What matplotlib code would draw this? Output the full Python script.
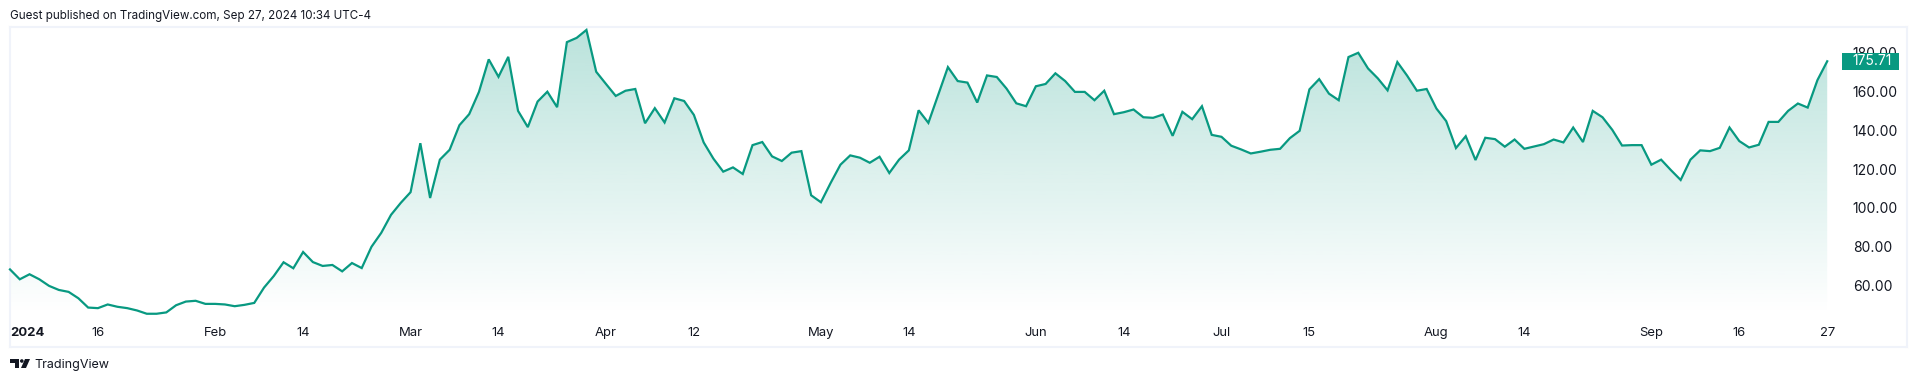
import numpy as np
import matplotlib
matplotlib.use("Agg")
import matplotlib.pyplot as plt
from matplotlib.patches import Rectangle, Polygon, Circle
from matplotlib.transforms import Affine2D

# Daily close values, Jan 2 – Sep 27 2024
values = [
 68.2,63.1,65.7,63.1,59.7,57.6,56.6,53.3,48.5,48.2,50.1,48.9,48.2,47.0,45.3,45.3,46.0,49.7,51.6,52.0,
 50.4,50.4,50.1,49.2,49.9,50.9,58.8,64.8,71.9,68.8,77.2,72.0,70.0,70.5,67.2,71.5,68.9,79.9,87.1,96.4,
 102.6,108.1,133.4,105.1,124.9,130.0,142.7,148.4,159.9,176.7,167.7,178.0,150.1,141.7,154.9,160.0,152.0,185.6,187.8,191.9,
 170.3,164.0,157.8,160.5,161.4,143.7,151.5,144.1,156.6,155.2,148.0,133.8,125.4,118.7,120.9,117.5,132.4,134.0,126.6,124.2,
 128.5,129.3,106.5,102.9,112.9,122.3,127.1,125.9,123.3,126.4,118.0,124.9,129.7,150.4,143.9,158.3,172.7,165.5,164.7,154.4,
 168.4,167.6,161.6,154.0,152.5,162.8,164.0,169.5,165.5,159.9,159.9,155.6,160.5,148.4,149.4,150.8,146.8,146.5,148.2,137.2,
 149.6,145.8,152.5,137.7,136.7,132.1,130.2,128.1,129.0,130.0,130.5,136.0,139.8,161.2,166.5,159.0,155.6,177.9,180.1,172.0,
 166.9,160.7,175.3,168.3,160.5,161.4,151.3,144.8,130.9,137.0,124.7,136.2,135.5,131.6,135.3,130.5,131.7,132.9,135.3,133.8,
 141.5,134.0,150.1,146.8,140.3,132.2,132.4,132.4,122.3,124.9,119.5,114.4,124.9,129.7,129.3,131.0,141.5,134.5,131.2,132.6,
 144.4,144.4,150.1,153.9,151.8,166.0,175.71]
x_tick_idx = [0, 9, 21, 30, 41, 50, 61, 70, 83, 92, 105, 114, 124, 133, 146, 155, 168, 177, 186]
x_tick_labels = ["2024","16","Feb","14","Mar","14","Apr","12","May","14","Jun","14","Jul","15","Aug","14","Sep","16","27"]
y_ticks = [60, 80, 100, 120, 140, 160, 180]
last_value = values[-1]

LINE = "#089981"
FRAME = "#F0F3FA"
TEXT = "#131722"
W, H = 1916, 382
FONT = "Inter"
X_FS = 9.4
Y_FS = 10.0

fig = plt.figure(figsize=(W/100, H/100), dpi=100, facecolor="white")
L, R, T, B = 10, 1907, 27, 347
ax = fig.add_axes([L/W, 1-B/H, (R-L)/W, (B-T)/H])
px_x = 9.77
px_y = 1.936
xlim = (0, (R-L)/px_x)
ylim = (60-(B-285.3)/px_y, 60+(285.3-T)/px_y)

xs = np.arange(len(values))
ax.plot(xs, values, color=LINE, lw=1.6, solid_joinstyle="miter", zorder=3, clip_on=False)

# vertical gradient fill, clipped under the line
base = 60-(315-285.3)/px_y
top = max(values)
n = 256
rgba = np.zeros((n, 1, 4))
rgba[..., 0] = 8/255; rgba[..., 1] = 153/255; rgba[..., 2] = 129/255
rgba[:, 0, 3] = np.linspace(0.28, 0.0, n)
im = ax.imshow(rgba, extent=[0, xs[-1], base, top], origin="upper", aspect="auto",
               interpolation="bilinear", zorder=2)
ax.set_xlim(*xlim)
ax.set_ylim(*ylim)
poly = Polygon(np.vstack([[0, base], np.column_stack([xs, values]), [xs[-1], base]]),
               closed=True, transform=ax.transData, facecolor="none", edgecolor="none")
ax.add_patch(poly)
im.set_clip_path(poly)

for s in ax.spines.values():
    s.set_color(FRAME); s.set_linewidth(1.5)

ax.set_xticks(x_tick_idx)
ax.set_xticklabels(x_tick_labels, fontsize=X_FS, family=FONT, color=TEXT)
ax.get_xticklabels()[0].set_fontweight("bold")
ax.get_xticklabels()[0].set_ha("left")
ax.tick_params(axis="x", length=0, direction="in", pad=-14.5)

ax.yaxis.tick_right()
ax.set_yticks(y_ticks)
ax.set_yticklabels([f"{v:.2f}" for v in y_ticks], fontsize=Y_FS, family=FONT, color=TEXT)
ax.tick_params(axis="y", length=0, direction="in", pad=-39)
for lab in ax.get_yticklabels():
    lab.set_ha("left")

# last value badge
to_px = Affine2D().scale(1, -1).translate(0, H)
ax.add_patch(Rectangle((1842, 53), 57, 17, transform=to_px, facecolor=LINE, edgecolor="none",
                       zorder=6, clip_on=False))
ax.annotate(f"{last_value:.2f}", xy=(1, last_value), xycoords=("axes fraction", "data"),
            xytext=(-39, 0), textcoords="offset points", ha="left", va="center",
            fontsize=Y_FS, family=FONT, color="white", zorder=7)

fig.text(10/W, 1-16/H, "Guest published on TradingView.com, Sep 27, 2024 10:34 UTC-4",
         fontsize=8.4, family=FONT, color=TEXT, ha="left", va="center")
fig.text(34/W, 1-365/H, "TradingView", fontsize=9.0, family=FONT, color=TEXT, ha="left", va="center")

# TradingView logo
fig.add_artist(Polygon([(10,359),(19,359),(19,368),(14.5,368),(14.5,362.5),(10,362.5)], closed=True,
                       transform=to_px, facecolor=TEXT, edgecolor="none"))
fig.add_artist(Circle((21.8,361), 1.8, transform=to_px, facecolor=TEXT, edgecolor="none"))
fig.add_artist(Polygon([(25,359),(30,359),(26,368),(21,368)], closed=True,
                       transform=to_px, facecolor=TEXT, edgecolor="none"))

fig.savefig("out.png", dpi=100, facecolor="white")
